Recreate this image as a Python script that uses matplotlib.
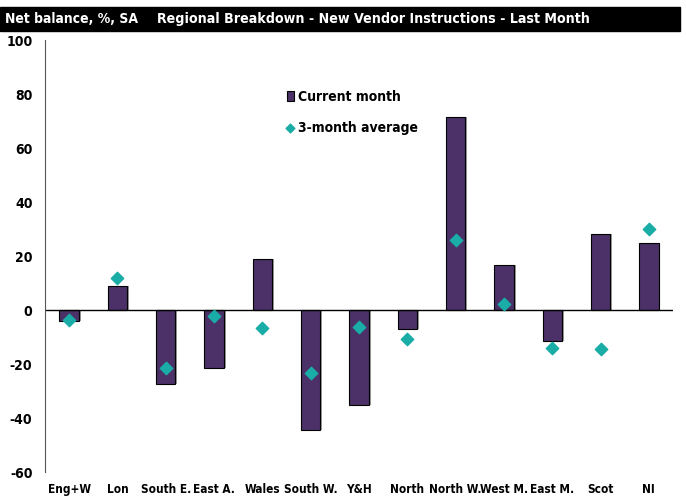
import matplotlib
matplotlib.use("Agg")
import matplotlib.pyplot as plt
from matplotlib.patches import Rectangle
import numpy as np

plt.rcParams['font.family'] = ['DejaVu Sans']
plt.rcParams['font.stretch'] = 'condensed'
plt.rcParams['font.weight'] = 'bold'
plt.rcParams['axes.unicode_minus'] = False

regions = ["Eng+W", "Lon", "South E.", "East A.", "Wales", "South W.", "Y&H",
           "North", "North W.", "West M.", "East M.", "Scot", "NI"]
current = [-4, 9, -27.5, -21.5, 19, -44.5, -35, -7, 71.5, 16.5, -11.5, 28, 25]
avg3m = [-3.7, 11.8, -21.4, -2.2, -6.7, -23.3, -6.4, -10.6, 26, 2.1, -14, -14.3, 30]

purple = "#4b3167"
teal = "#1aaca6"

fig = plt.figure(figsize=(6.86, 4.97), dpi=100)
ax = fig.add_axes([45/686, 1 - 472/497, 628/686, 432/497])

x = np.arange(len(regions))
# grey shadow behind the bars
ax.bar(x + 0.04, current, width=0.4, color="#9a9a9a", zorder=1)
bars = ax.bar(x, current, width=0.4, color=purple, edgecolor="black", linewidth=0.8,
              zorder=2, label="Current month")
pts = ax.scatter(x, avg3m, marker="D", s=40, color=teal, zorder=3, label="3-month average")

ax.axhline(0, color="black", linewidth=1, zorder=2.5)
ax.set_xlim(-0.5, 12.5)
ax.set_ylim(-60, 100)
ax.set_yticks(range(-60, 101, 20))
ax.set_xticks(x)
ax.set_xticklabels(regions, fontsize=8.5)
ax.tick_params(axis="both", length=0)
ax.tick_params(axis="y", labelsize=10, pad=9)
ax.tick_params(axis="x", pad=8)
for s in ["top", "right", "bottom"]:
    ax.spines[s].set_visible(False)
ax.spines["left"].set_color("#555555")

ax.legend([bars, pts], ["Current month", "3-month average"], loc="upper left",
          bbox_to_anchor=(0.365, 0.913), frameon=False, fontsize=10,
          handlelength=0.5, handletextpad=0.3, labelspacing=1.2, markerscale=0.7)

fig.patches.append(Rectangle((0, 1 - 31/497), 680/686, 24/497, transform=fig.transFigure,
                             color="black", zorder=0))
fig.text(5/686, 1 - 19/497, "Net balance, %, SA", color="white", fontsize=10,
         va="center", ha="left")
fig.text(157/686, 1 - 19/497, "Regional Breakdown - New Vendor Instructions - Last Month",
         color="white", fontsize=10.2, va="center", ha="left")

fig.savefig("out.png", dpi=100)
